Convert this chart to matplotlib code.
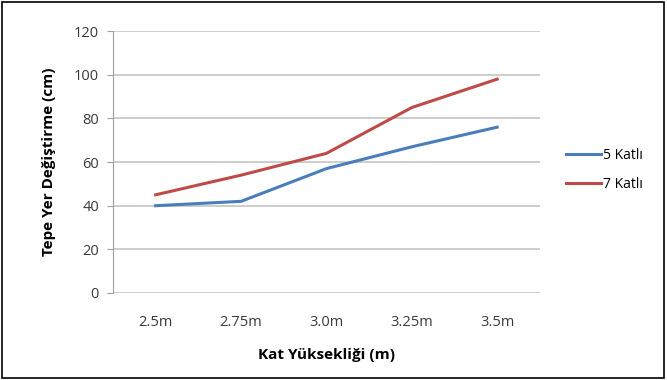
import numpy as np
import matplotlib.pyplot as plt
from matplotlib.patches import Rectangle

plt.rcParams['font.family'] = ['Open Sans', 'DejaVu Sans']

# veriler
kategoriler = ["2.5m", "2.75m", "3.0m", "3.25m", "3.5m"]
kat5 = [40, 42, 57, 67, 76]
kat7 = [45, 54, 64, 85, 98]

fig = plt.figure(figsize=(6.67, 3.8), dpi=100)
ax = fig.add_axes([0.1694, 0.229, 0.640, 0.689])

x = np.arange(len(kategoriler))
ax.plot(x, kat5, color="#4a7ebb", lw=2.2, label="5 Katlı")
ax.plot(x, kat7, color="#be4b48", lw=2.2, label="7 Katlı")

ax.set_xlim(-0.5, len(kategoriler) - 0.5)
ax.set_ylim(0, 120)
ax.set_yticks(range(0, 121, 20))
ax.set_xticks(x)
ax.set_xticklabels(kategoriler)
ax.grid(axis="y", color="#c0c0c0", lw=1.1)
ax.set_axisbelow(True)

for s in ["top", "right", "bottom"]:
    ax.spines[s].set_visible(False)
ax.spines["left"].set_color("#a0a0a0")
ax.tick_params(axis="y", colors="#a0a0a0", length=4, labelcolor="#3a3a3a", labelsize=10.5, pad=6)
ax.tick_params(axis="x", length=0, labelcolor="#3a3a3a", labelsize=10.5, pad=16)

ax.set_xlabel("Kat Yüksekliği (m)", fontsize=11, fontweight="bold", labelpad=13)
ax.set_ylabel("Tepe Yer Değiştirme (cm)", fontsize=11, fontweight="bold", labelpad=13)

ax.legend(loc="center left", bbox_to_anchor=(1.033, 0.47), frameon=False,
          fontsize=10, handlelength=2.5, handletextpad=0.1, labelspacing=1.0)

fig.add_artist(Rectangle((0.003, 0.005), 0.993, 0.99, transform=fig.transFigure,
                         fill=False, edgecolor="black", lw=1.2))

fig.savefig("out.png", dpi=100)
